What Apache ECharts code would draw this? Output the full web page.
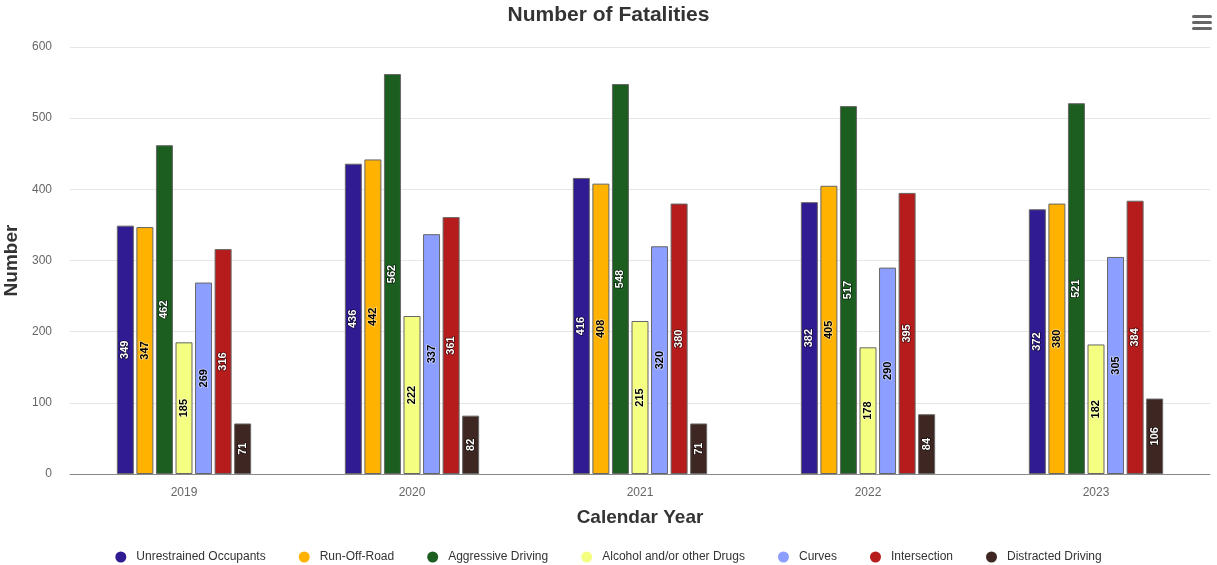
<!DOCTYPE html>
<html><head><meta charset="utf-8">
<script src="https://cdn.jsdelivr.net/npm/echarts@6/dist/echarts.min.js"></script>
<style>html,body{margin:0;padding:0;background:#fff}#c{width:1217px;height:565px}</style>
</head><body><div id="c"></div>
<script>
const years = ['2019','2020','2021','2022','2023'];
const seriesNames = ['Unrestrained Occupants','Run-Off-Road','Aggressive Driving','Alcohol and/or other Drugs','Curves','Intersection','Distracted Driving'];
const unrestrained = [349,436,416,382,372];
const runOffRoad = [347,442,408,405,380];
const aggressive = [462,562,548,517,521];
const alcohol = [185,222,215,178,182];
const curves = [269,337,320,290,305];
const intersection = [316,361,380,395,384];
const distracted = [71,82,71,84,106];
const colors = ['#311B92','#FFB300','#1B5E20','#F4FF81','#8C9EFF','#B71C1C','#3E2723'];
const labelColors = ['#fff','#000','#fff','#000','#000','#fff','#fff'];
const yTicks = {min:0,max:600,interval:100};
const values = [unrestrained,runOffRoad,aggressive,alcohol,curves,intersection,distracted];
const font = 'Liberation Sans, Arial, sans-serif';

const chart = echarts.init(document.getElementById('c'));
chart.setOption({
  animation:false,
  textStyle:{fontFamily:font},
  title:{text:'Number of Fatalities',left:'center',top:0,textStyle:{fontSize:21,fontWeight:'bold',color:'#333',fontFamily:font}},
  grid:{left:70,right:7,top:47,bottom:91,outerBoundsMode:'none',containLabel:false},
  legend:{top:546,left:'center',icon:'circle',itemWidth:11,itemHeight:11,itemGap:33,
    itemStyle:{borderWidth:0},
    textStyle:{fontSize:12,color:'#333',fontFamily:font,padding:[0,0,0,5]},data:seriesNames},
  xAxis:{type:'category',data:years,
    name:'Calendar Year',nameLocation:'middle',nameGap:34,
    nameTextStyle:{fontSize:19,fontWeight:'bold',color:'#333',fontFamily:font},
    axisLine:{lineStyle:{color:'#888'}},
    axisTick:{alignWithLabel:true,length:9,lineStyle:{color:'#888'}},
    axisLabel:{color:'#666',fontSize:12,margin:13}},
  yAxis:{type:'value',min:yTicks.min,max:yTicks.max,interval:yTicks.interval,
    name:'Number',nameLocation:'middle',nameGap:47,
    nameTextStyle:{fontSize:19,fontWeight:'bold',color:'#333',fontFamily:font},
    axisLine:{show:false},axisTick:{show:false},
    axisLabel:{color:'#666',fontSize:12,margin:18},
    splitLine:{lineStyle:{color:'#e6e6e6'}}},
  series: seriesNames.map((n,i)=>({
    name:n,type:'bar',data:values[i],barWidth:17,barGap:'15%',
    itemStyle:{color:colors[i],borderColor:'#666',borderWidth:1},
    label:{show:true,position:'inside',rotate:90,fontSize:11,fontWeight:'bold',
      color:labelColors[i],fontFamily:font,
      textBorderColor:labelColors[i]==='#fff'?'rgba(0,0,0,0.6)':'rgba(255,255,255,0.5)',textBorderWidth:1.5}
  })),
  graphic:[{type:'group',left:1192,top:15,children:[
    {type:'rect',shape:{x:0,y:0,width:20,height:3,r:1.5},style:{fill:'#666'}},
    {type:'rect',shape:{x:0,y:6,width:20,height:3,r:1.5},style:{fill:'#666'}},
    {type:'rect',shape:{x:0,y:12,width:20,height:3,r:1.5},style:{fill:'#666'}}
  ]}]
});
</script></body></html>
